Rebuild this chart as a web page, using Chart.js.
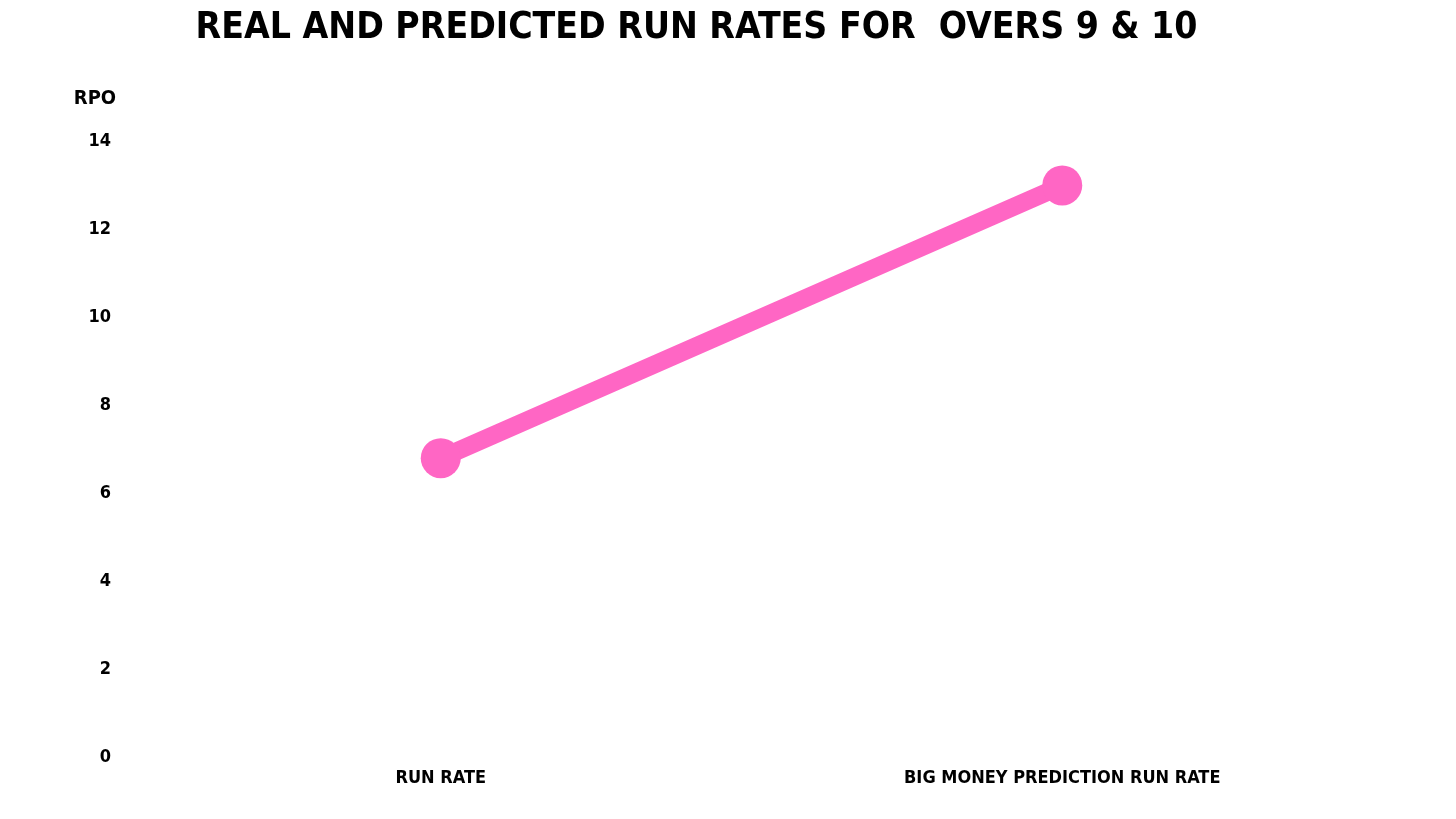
<!DOCTYPE html>
<html lang="en">
<head>
    <meta charset="UTF-8">
    <title>Real and Predicted Run Rates</title>
    <script src="https://cdn.jsdelivr.net/npm/chart.js"></script>
    <style>
        html, body {
            margin: 0;
            padding: 0;
            background: #ffffff;
            overflow: hidden;
        }
        .wrap {
            position: relative;
            width: 1456px;
            height: 819px;
        }
    </style>
</head>
<body>
    <div class="wrap">
        <canvas id="rpoChart"></canvas>
    </div>

    <script>
        const categories = ['RUN RATE', 'BIG MONEY PREDICTION RUN RATE'];
        const runRates = [6.8, 13.0];
        const yTicks = [0, 2, 4, 6, 8, 10, 12, 14];

        const FONT = "'Liberation Sans Narrow', 'DejaVu Sans Condensed', sans-serif";
        const PINK = '#ff66c4';

        // draws the "RPO" unit label above the y axis
        const unitLabel = {
            id: 'unitLabel',
            afterDraw(chart) {
                const c = chart.ctx;
                const area = chart.chartArea;
                c.save();
                c.font = 'bold 20px ' + FONT;
                c.fillStyle = '#000';
                c.textAlign = 'center';
                c.textBaseline = 'middle';
                c.fillText('RPO', area.left - 35, area.top - 43);
                c.restore();
            }
        };

        const ctx = document.getElementById('rpoChart').getContext('2d');
        new Chart(ctx, {
            type: 'line',
            data: {
                labels: categories,
                datasets: [{
                    label: 'RPO',
                    data: runRates,
                    borderColor: PINK,
                    backgroundColor: PINK,
                    borderWidth: 18,
                    pointRadius: 20,
                    pointHoverRadius: 20,
                    pointBorderWidth: 0,
                    borderCapStyle: 'round',
                    tension: 0
                }]
            },
            options: {
                responsive: true,
                maintainAspectRatio: false,
                animation: false,
                layout: {
                    padding: { left: 20, right: 83, top: 0, bottom: 20 }
                },
                plugins: {
                    legend: { display: false },
                    tooltip: { enabled: false },
                    title: {
                        display: true,
                        text: 'REAL AND PREDICTED RUN RATES FOR  OVERS 9 & 10',
                        color: '#000',
                        font: { family: FONT, size: 37, weight: 'bold' },
                        padding: { top: 6, bottom: 91 }
                    }
                },
                scales: {
                    x: {
                        offset: true,
                        grid: { display: false, drawTicks: false },
                        border: { display: false },
                        ticks: {
                            color: '#000',
                            padding: 10,
                            maxRotation: 0,
                            font: { family: FONT, size: 18, weight: 'bold' }
                        }
                    },
                    y: {
                        min: 0,
                        max: 14,
                        afterBuildTicks(axis) {
                            axis.ticks = yTicks.map(v => ({ value: v }));
                        },
                        afterFit(axis) {
                            axis.width = 110;
                        },
                        grid: { display: false, drawTicks: false },
                        border: { display: false },
                        ticks: {
                            color: '#000',
                            padding: 19,
                            font: { family: FONT, size: 18, weight: 'bold' }
                        }
                    }
                }
            },
            plugins: [unitLabel]
        });
    </script>
</body>
</html>
